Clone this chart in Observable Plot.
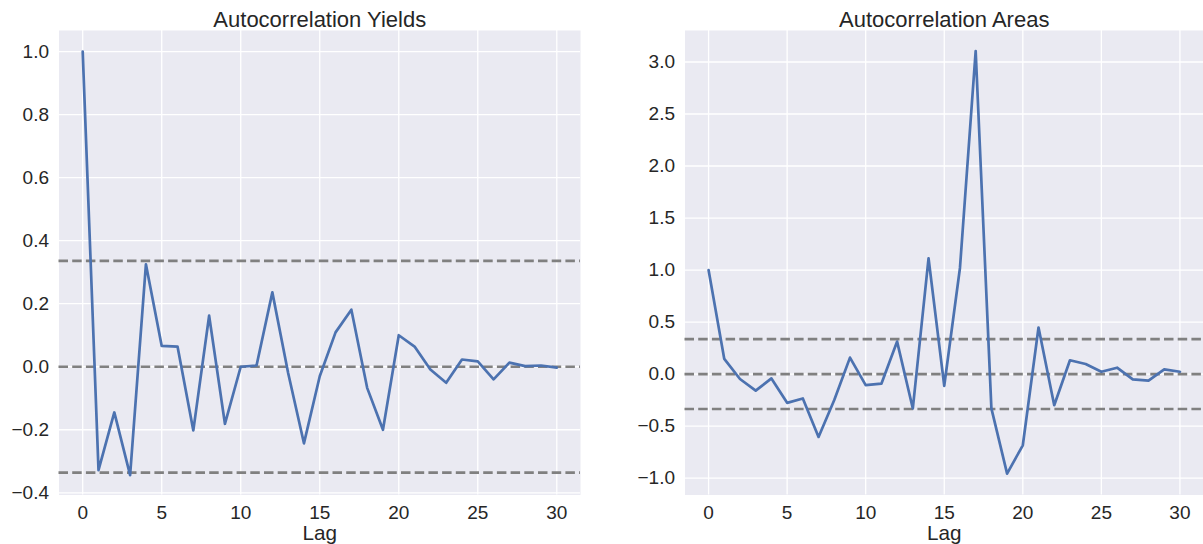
<!DOCTYPE html>
<html>
<head>
<meta charset="utf-8">
<script src="https://cdn.jsdelivr.net/npm/d3@7"></script>
<script src="https://cdn.jsdelivr.net/npm/@observablehq/plot@0.6"></script>
<style>
  body { margin: 0; background: #ffffff; }
  #wrap { position: relative; width: 1203px; height: 544px; overflow: hidden; background: #ffffff; }
  #wrap svg { position: absolute; top: 0; }
</style>
</head>
<body>
<div id="wrap"></div>
<script>
// ---- data ----
const lags = [0, 1, 2, 3, 4, 5, 6, 7, 8, 9, 10, 11, 12, 13, 14, 15, 16, 17, 18, 19, 20, 21, 22, 23, 24, 25, 26, 27, 28, 29, 30];
const yieldsAcf = [1.0, -0.328, -0.145, -0.344, 0.325, 0.066, 0.064, -0.202, 0.162, -0.181, 0.0, 0.004, 0.236, -0.02, -0.243, -0.03, 0.109, 0.181, -0.067, -0.2, 0.1, 0.064, -0.009, -0.051, 0.023, 0.017, -0.04, 0.013, 0.002, 0.004, -0.003];
const areasAcf = [1.0, 0.145, -0.048, -0.16, -0.042, -0.277, -0.235, -0.605, -0.25, 0.158, -0.106, -0.093, 0.312, -0.331, 1.113, -0.113, 1.02, 3.106, -0.33, -0.957, -0.685, 0.447, -0.3, 0.132, 0.096, 0.022, 0.061, -0.051, -0.064, 0.045, 0.022];
const confBand = [-0.336, 0, 0.336];
const xTicks = [0, 5, 10, 15, 20, 25, 30];
const yieldsTicks = [-0.4, -0.2, 0.0, 0.2, 0.4, 0.6, 0.8, 1.0];
const areasTicks = [-1.0, -0.5, 0.0, 0.5, 1.0, 1.5, 2.0, 2.5, 3.0];
const titles = ["Autocorrelation Yields", "Autocorrelation Areas"];
const xLabel = "Lag";

const TEXT = "#262626";

function panel({values, yDomain, yTicks, title, width, marginLeft, marginRight, left}) {
  const data = lags.map((lag, i) => ({lag, acf: values[i]}));
  const svg = Plot.plot({
    width,
    height: 544,
    marginTop: 30,
    marginBottom: 49.5,
    marginLeft,
    marginRight,
    style: {
      fontFamily: "'Liberation Sans', Arial, sans-serif",
      fontSize: "19px",
      color: TEXT,
      background: "transparent",
      overflow: "visible"
    },
    x: {domain: [-1.5, 31.5], ticks: xTicks, tickSize: 0, tickPadding: 10, label: null, tickFormat: d3.format("d")},
    y: {domain: yDomain, ticks: yTicks, tickSize: 0, tickPadding: 10, label: null, tickFormat: d3.format(".1f")},
    marks: [
      Plot.frame({fill: "#EAEAF2", stroke: null}),
      Plot.gridX(xTicks, {stroke: "#ffffff", strokeOpacity: 1, strokeWidth: 1.3}),
      Plot.gridY(yTicks, {stroke: "#ffffff", strokeOpacity: 1, strokeWidth: 1.3}),
      Plot.ruleY(confBand, {stroke: "#808080", strokeWidth: 2.7, strokeDasharray: "9.5,4.2"}),
      Plot.line(data, {x: "lag", y: "acf", stroke: "#4C72B0", strokeWidth: 2.7, strokeLinejoin: "round"}),
      Plot.text([title], {text: d => d, frameAnchor: "top", dy: -10.5, lineAnchor: "middle", fontSize: 22, fill: TEXT}),
      Plot.text([xLabel], {text: d => d, frameAnchor: "bottom", dy: 38, lineAnchor: "middle", fontSize: 20.7, fill: TEXT})
    ]
  });
  svg.style.left = left + "px";
  return svg;
}

const wrap = document.getElementById("wrap");
wrap.appendChild(panel({
  values: yieldsAcf, yDomain: [-0.407, 1.067], yTicks: yieldsTicks, title: titles[0],
  width: 600, marginLeft: 58.5, marginRight: 20, left: 0
}));
wrap.appendChild(panel({
  values: areasAcf, yDomain: [-1.163, 3.303], yTicks: areasTicks, title: titles[1],
  width: 603, marginLeft: 84.5, marginRight: 0, left: 600
}));
</script>
</body>
</html>
